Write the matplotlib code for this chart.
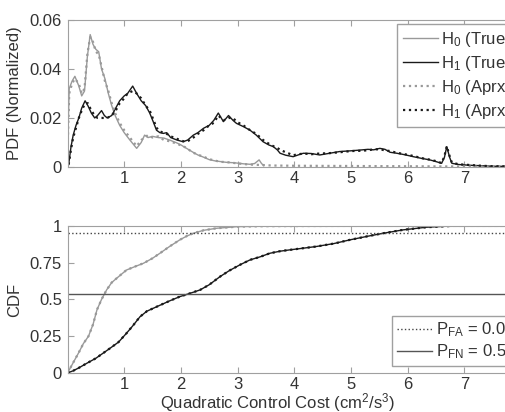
import numpy as np
import matplotlib as mpl
mpl.use('Agg')
import matplotlib.pyplot as plt

plt.rcParams['font.family'] = ['Liberation Sans', 'DejaVu Sans']
plt.rcParams['font.size'] = 12
plt.rcParams['mathtext.fontset'] = 'custom'
plt.rcParams['mathtext.rm'] = 'Liberation Sans'
plt.rcParams['mathtext.it'] = 'Liberation Sans'

# PDF curves (x, pdf)
h0_true = [(0.0, 0.008), (0.03, 0.032), (0.08, 0.035), (0.13, 0.037), (0.2, 0.033), (0.25, 0.029),
           (0.3, 0.031), (0.35, 0.045), (0.4, 0.054), (0.45, 0.050), (0.5, 0.048), (0.55, 0.047),
           (0.6, 0.040), (0.66, 0.036), (0.72, 0.030), (0.78, 0.025), (0.84, 0.021), (0.92, 0.017),
           (1.0, 0.014), (1.1, 0.011), (1.22, 0.0076), (1.3, 0.010), (1.36, 0.013), (1.42, 0.012),
           (1.5, 0.0125), (1.6, 0.012), (1.7, 0.0118), (1.8, 0.011), (1.93, 0.0098), (2.0, 0.009),
           (2.1, 0.0076), (2.2, 0.0062), (2.3, 0.0049), (2.4, 0.004), (2.5, 0.003), (2.6, 0.0025),
           (2.7, 0.0022), (2.8, 0.0019), (2.95, 0.0017), (3.1, 0.0013), (3.22, 0.0011), (3.3, 0.0014),
           (3.38, 0.0029), (3.42, 0.0015), (3.46, 0.0005)]
h0_aprx = [(0.0, 0.006), (0.03, 0.030), (0.08, 0.034), (0.13, 0.036), (0.2, 0.034), (0.25, 0.030),
           (0.3, 0.032), (0.35, 0.046), (0.4, 0.053), (0.45, 0.051), (0.5, 0.047), (0.55, 0.046),
           (0.6, 0.041), (0.66, 0.035), (0.72, 0.031), (0.78, 0.026), (0.84, 0.022), (0.92, 0.018),
           (1.0, 0.015), (1.1, 0.012), (1.22, 0.0085), (1.3, 0.011), (1.36, 0.012), (1.42, 0.013),
           (1.5, 0.012), (1.6, 0.0125), (1.7, 0.011), (1.8, 0.0105), (1.93, 0.0095), (2.0, 0.0088),
           (2.1, 0.0078), (2.2, 0.006), (2.3, 0.005), (2.4, 0.0042), (2.5, 0.0032), (2.6, 0.0026),
           (2.7, 0.0021), (2.8, 0.002), (2.95, 0.0016), (3.1, 0.0012), (3.22, 0.001), (3.3, 0.0009),
           (3.45, 0.0008), (3.6, 0.0006), (4.0, 0.0005), (5.0, 0.0004), (6.0, 0.0003), (7.0, 0.0002),
           (8.0, 0.0001)]
h1_true = [(0.02, 0.001), (0.06, 0.008), (0.1, 0.013), (0.15, 0.017), (0.2, 0.020), (0.25, 0.024),
           (0.31, 0.027), (0.36, 0.025), (0.42, 0.022), (0.48, 0.020), (0.53, 0.021), (0.6, 0.023),
           (0.65, 0.021), (0.7, 0.020), (0.78, 0.021), (0.85, 0.024), (0.92, 0.027), (1.0, 0.029),
           (1.06, 0.030), (1.15, 0.033), (1.22, 0.030), (1.3, 0.027), (1.38, 0.025), (1.45, 0.022),
           (1.52, 0.018), (1.57, 0.015), (1.63, 0.014), (1.69, 0.0137), (1.75, 0.014), (1.82, 0.012),
           (1.93, 0.011), (2.04, 0.0103), (2.12, 0.011), (2.22, 0.013), (2.3, 0.014), (2.4, 0.0158),
           (2.5, 0.017), (2.58, 0.019), (2.66, 0.022), (2.75, 0.0185), (2.84, 0.021), (2.92, 0.019),
           (2.98, 0.0178), (3.1, 0.0165), (3.22, 0.015), (3.33, 0.013), (3.45, 0.0103), (3.55, 0.009),
           (3.63, 0.0083), (3.7, 0.007), (3.75, 0.0056), (3.85, 0.0048), (3.98, 0.0042), (4.08, 0.005),
           (4.16, 0.0056), (4.3, 0.0055), (4.45, 0.0049), (4.6, 0.0055), (4.8, 0.0063), (5.0, 0.0066),
           (5.16, 0.0069), (5.3, 0.0072), (5.4, 0.0070), (5.51, 0.0076), (5.6, 0.0072), (5.69, 0.006),
           (5.81, 0.0056), (5.95, 0.005), (6.1, 0.0042), (6.25, 0.0035), (6.39, 0.0029), (6.5, 0.0022),
           (6.6, 0.0015), (6.65, 0.004), (6.69, 0.0083), (6.74, 0.004), (6.78, 0.0015), (6.9, 0.001),
           (7.1, 0.0007), (7.3, 0.0005), (7.5, 0.0003), (8.0, 0.0002)]
h1_aprx = [(0.02, 0.001), (0.06, 0.007), (0.1, 0.012), (0.15, 0.016), (0.2, 0.020), (0.25, 0.023),
           (0.31, 0.026), (0.36, 0.026), (0.42, 0.023), (0.48, 0.021), (0.53, 0.020), (0.6, 0.020),
           (0.65, 0.020), (0.7, 0.020), (0.78, 0.021), (0.85, 0.023), (0.92, 0.026), (1.0, 0.028),
           (1.06, 0.030), (1.15, 0.031), (1.22, 0.030), (1.3, 0.028), (1.38, 0.025), (1.45, 0.023),
           (1.52, 0.019), (1.57, 0.016), (1.63, 0.0145), (1.69, 0.014), (1.75, 0.0135), (1.82, 0.0125),
           (1.93, 0.0115), (2.04, 0.0105), (2.12, 0.0105), (2.22, 0.012), (2.3, 0.0135), (2.4, 0.015),
           (2.5, 0.017), (2.58, 0.018), (2.66, 0.021), (2.75, 0.019), (2.84, 0.020), (2.92, 0.020),
           (2.98, 0.0185), (3.1, 0.017), (3.22, 0.015), (3.33, 0.0135), (3.45, 0.011), (3.55, 0.0095),
           (3.63, 0.0085), (3.7, 0.0078), (3.75, 0.007), (3.85, 0.006), (3.98, 0.0048), (4.08, 0.0052),
           (4.16, 0.0055), (4.3, 0.0052), (4.45, 0.0055), (4.6, 0.0056), (4.8, 0.006), (5.0, 0.0065),
           (5.16, 0.0066), (5.3, 0.0068), (5.4, 0.0072), (5.51, 0.0072), (5.6, 0.0068), (5.69, 0.0065),
           (5.81, 0.0058), (5.95, 0.0052), (6.1, 0.0045), (6.25, 0.0036), (6.39, 0.003), (6.5, 0.0024),
           (6.6, 0.0016), (6.65, 0.0045), (6.69, 0.0085), (6.74, 0.0045), (6.78, 0.0018), (6.9, 0.0011),
           (7.1, 0.0008), (7.3, 0.0005), (7.5, 0.0003), (8.0, 0.0002)]

# CDF curves
cdf_h0_x = [0, 0.1, 0.2, 0.28, 0.37, 0.45, 0.52, 0.6, 0.69, 0.78, 0.87, 1.04, 1.2, 1.34, 1.5, 1.63,
            1.8, 1.98, 2.1, 2.22, 2.4, 2.63, 3.0, 3.5, 4.0, 5.0, 6.0, 7.0, 8.0]
cdf_h0_y = [0, 0.07, 0.14, 0.20, 0.25, 0.33, 0.43, 0.50, 0.565, 0.615, 0.645, 0.70, 0.725, 0.746,
            0.78, 0.814, 0.86, 0.905, 0.93, 0.95, 0.97, 0.984, 0.995, 0.998, 0.999, 1, 1, 1, 1]
cdf_h1_x = [0, 0.1, 0.2, 0.34, 0.5, 0.75, 0.9, 1.04, 1.15, 1.28, 1.4, 1.57, 1.8, 1.98, 2.15, 2.34,
            2.5, 2.69, 2.85, 3.04, 3.22, 3.4, 3.57, 3.75, 3.92, 4.15, 4.39, 4.7, 4.98, 5.3, 5.57,
            5.92, 6.33, 6.8, 7.2, 8.0]
cdf_h1_y = [0, 0.015, 0.035, 0.066, 0.10, 0.168, 0.21, 0.27, 0.32, 0.383, 0.42, 0.45, 0.49, 0.519,
            0.54, 0.565, 0.60, 0.655, 0.695, 0.735, 0.769, 0.79, 0.814, 0.828, 0.837, 0.848, 0.86,
            0.88, 0.905, 0.93, 0.95, 0.973, 0.991, 1.0, 1.0, 1.0]

p_fa = 0.05
p_fn = 0.54

gray = '#999999'
dark = '#1a1a1a'
spine = '#a0a0a0'
txt = '#333333'

fig = plt.figure(figsize=(5.05, 4.12), dpi=100)
ax1 = fig.add_axes([0.1337, 0.5947, 0.898, 0.357])
ax2 = fig.add_axes([0.1337, 0.0947, 0.898, 0.357])

for series, c, ls, lw in [(h0_true, gray, '-', 1.0), (h1_true, dark, '-', 1.0),
                          (h0_aprx, gray, ':', 1.6), (h1_aprx, dark, ':', 1.6)]:
    xs, ys = zip(*series)
    ax1.plot(xs, ys, color=c, ls=ls, lw=lw)

ax1.set_ylim(0, 0.06)
ax1.set_yticks([0, 0.02, 0.04, 0.06])
ax1.set_yticklabels(['0', '0.02', '0.04', '0.06'])
ax1.set_ylabel('PDF (Normalized)', color=txt)

ax2.plot(cdf_h0_x, cdf_h0_y, color=gray, lw=1.0)
ax2.plot(cdf_h0_x, cdf_h0_y, color=gray, ls=':', lw=1.6)
ax2.plot(cdf_h1_x, cdf_h1_y, color=dark, lw=1.0)
ax2.plot(cdf_h1_x, cdf_h1_y, color=dark, ls=':', lw=1.6)
ax2.axhline(1 - p_fa, color='#444444', ls=':', lw=1.0)
ax2.axhline(p_fn, color='#555555', ls='-', lw=1.0)
ax2.set_ylim(0, 1)
ax2.set_yticks([0, 0.25, 0.5, 0.75, 1])
ax2.set_yticklabels(['0', '0.25', '0.5', '0.75', '1'])
ax2.set_ylabel('CDF', color=txt)
ax2.set_xlabel('Quadratic Control Cost (cm$^2$/s$^3$)', color=txt)
ax2.xaxis.set_label_coords(0.464, -0.122)

for ax in (ax1, ax2):
    ax.set_xlim(0, 8)
    ax.set_xticks([1, 2, 3, 4, 5, 6, 7])
    ax.tick_params(direction='in', length=4, color=spine, labelcolor=txt, top=True, right=True, labelsize=12)
    ax.tick_params(axis='x', pad=3)
    ax.tick_params(axis='y', pad=4)
    for s in ax.spines.values():
        s.set_color(spine)

ax1.yaxis.set_label_coords(-0.10, 0.5)
ax2.yaxis.set_label_coords(-0.10, 0.5)

leg1 = ax1.legend(['H$_0$ (True)', 'H$_1$ (True)', 'H$_0$ (Aprx)', 'H$_1$ (Aprx)'],
                  loc='upper left', bbox_to_anchor=(0.786, 0.941), bbox_transform=fig.transFigure,
                  fancybox=False, framealpha=1, edgecolor=spine, handlelength=2.1,
                  handletextpad=0.2, labelspacing=0.3, borderaxespad=0, borderpad=0.35, fontsize=12)
for t in leg1.get_texts():
    t.set_color(txt)
leg2 = ax2.legend(ax2.lines[4:], ['P$_{FA}$ = 0.05', 'P$_{FN}$ = 0.54'],
                  loc='upper left', bbox_to_anchor=(0.777, 0.234), bbox_transform=fig.transFigure,
                  fancybox=False, framealpha=1, edgecolor=spine, handlelength=2.1,
                  handletextpad=0.2, labelspacing=0.2, borderaxespad=0, borderpad=0.3, fontsize=12)
for t in leg2.get_texts():
    t.set_color(txt)

plt.savefig('out.png', dpi=100)
plt.close()
